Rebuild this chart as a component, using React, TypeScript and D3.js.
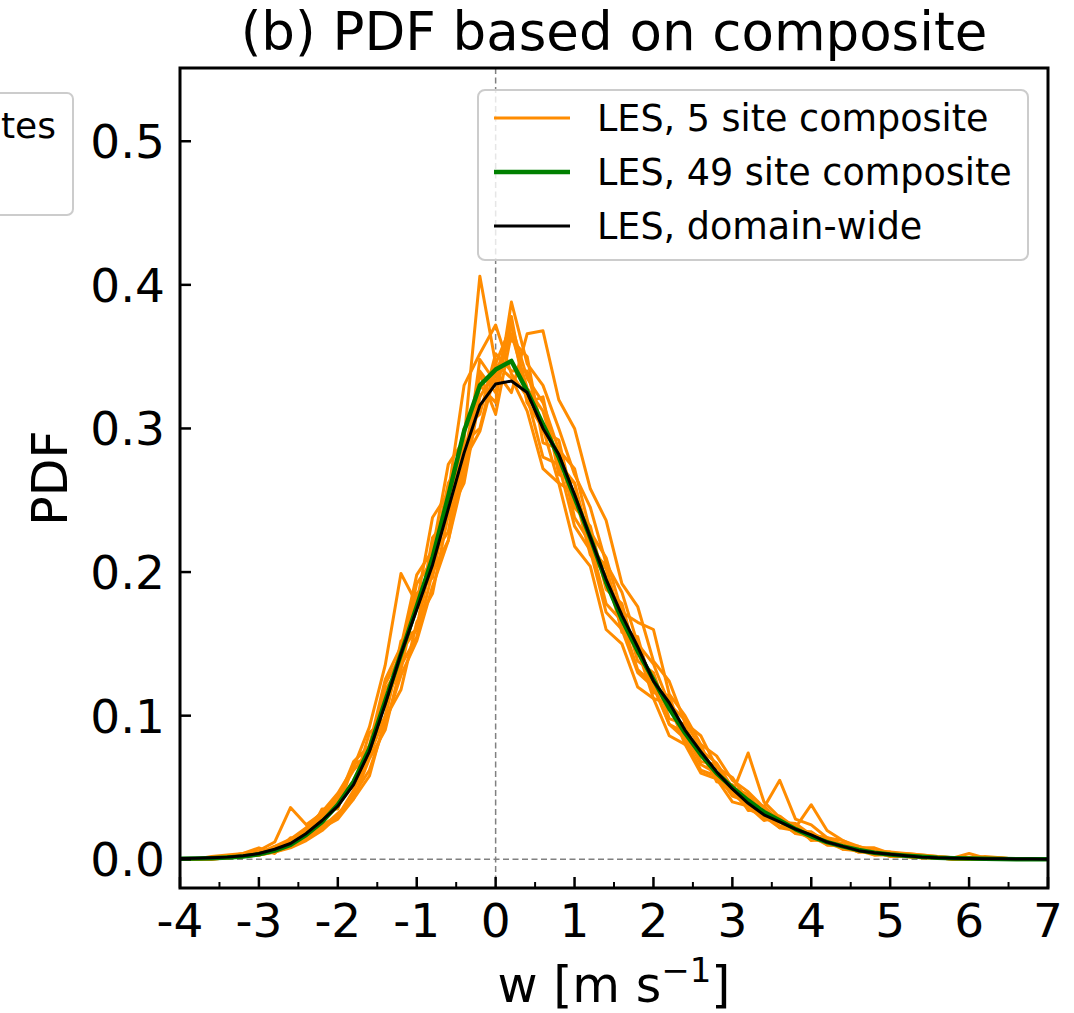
import * as d3 from "d3";

// bin centres of the PDFs, w in m/s
const wBins = d3.range(56).map((i) => -4 + i * 0.2);

// LES, domain-wide
const domainWide = [
  0.0005, 0.0007, 0.001, 0.0015, 0.0025, 0.004, 0.007, 0.011, 0.018, 0.027,
  0.037, 0.052, 0.075, 0.108, 0.143, 0.174, 0.205, 0.244, 0.283, 0.316,
  0.331, 0.333, 0.325, 0.3, 0.282, 0.254, 0.224, 0.195, 0.17, 0.148,
  0.124, 0.109, 0.09, 0.075, 0.061, 0.049, 0.039, 0.031, 0.026, 0.021,
  0.017, 0.012, 0.009, 0.006, 0.0045, 0.0035, 0.0025, 0.0015, 0.001, 0.0008,
  0.0005, 0.0004, 0.0003, 0.0002, 0.0002, 0.0001,
];

// LES, 49 site composite
const composite49 = [
  0.0003, 0.0005, 0.0008, 0.0013, 0.002, 0.0035, 0.006, 0.01, 0.017, 0.026,
  0.038, 0.054, 0.077, 0.11, 0.143, 0.176, 0.21, 0.253, 0.298, 0.33,
  0.341, 0.347, 0.326, 0.303, 0.28, 0.252, 0.224, 0.193, 0.167, 0.145,
  0.125, 0.105, 0.088, 0.073, 0.06, 0.05, 0.041, 0.033, 0.027, 0.021,
  0.016, 0.012, 0.009, 0.0065, 0.0045, 0.0033, 0.0024, 0.0017, 0.0011, 0.0008,
  0.0005, 0.0003, 0.0002, 0.0001, 0.0001, 0.0001,
];

// LES, 5 site composite (one line per sample)
const composite5 = [
  [
    0, 0, 0.001, 0.002, 0.003, 0.005, 0.006, 0.012, 0.02, 0.03,
    0.041, 0.068, 0.079, 0.125, 0.148, 0.198, 0.215, 0.275, 0.292, 0.406,
    0.345, 0.372, 0.318, 0.3, 0.262, 0.255, 0.212, 0.198, 0.16, 0.146,
    0.112, 0.108, 0.08, 0.074, 0.055, 0.047, 0.035, 0.03, 0.022, 0.02,
    0.014, 0.012, 0.007, 0.006, 0.003, 0.003, 0.002, 0.001, 0.001, 0,
    0.001, 0, 0, 0, 0, 0,
  ],
  [
    0, 0, 0, 0.001, 0.002, 0.004, 0.008, 0.01, 0.016, 0.024,
    0.03, 0.045, 0.062, 0.094, 0.128, 0.152, 0.19, 0.222, 0.268, 0.33,
    0.318, 0.388, 0.345, 0.33, 0.3, 0.268, 0.245, 0.206, 0.186, 0.15,
    0.136, 0.108, 0.097, 0.076, 0.067, 0.05, 0.045, 0.032, 0.03, 0.02,
    0.019, 0.012, 0.011, 0.006, 0.006, 0.003, 0.003, 0.002, 0.001, 0.001,
    0.001, 0.002, 0.001, 0, 0, 0,
  ],
  [
    0, 0, 0.001, 0.001, 0.002, 0.003, 0.005, 0.009, 0.014, 0.022,
    0.028, 0.042, 0.07, 0.09, 0.135, 0.155, 0.2, 0.222, 0.278, 0.298,
    0.34, 0.325, 0.366, 0.368, 0.32, 0.3, 0.258, 0.236, 0.192, 0.176,
    0.138, 0.124, 0.095, 0.086, 0.064, 0.057, 0.04, 0.037, 0.026, 0.025,
    0.017, 0.015, 0.01, 0.009, 0.005, 0.005, 0.002, 0.002, 0.001, 0.001,
    0, 0, 0, 0, 0, 0,
  ],
  [
    0, 0, 0.001, 0.002, 0.002, 0.004, 0.009, 0.014, 0.022, 0.033,
    0.046, 0.064, 0.092, 0.135, 0.199, 0.178, 0.238, 0.255, 0.33, 0.352,
    0.372, 0.338, 0.322, 0.28, 0.275, 0.232, 0.215, 0.172, 0.16, 0.13,
    0.12, 0.094, 0.088, 0.066, 0.06, 0.044, 0.04, 0.028, 0.026, 0.018,
    0.016, 0.01, 0.009, 0.005, 0.005, 0.002, 0.002, 0.001, 0.001, 0,
    0, 0, 0, 0, 0, 0,
  ],
  [
    0, 0, 0.002, 0.003, 0.004, 0.006, 0.012, 0.036, 0.024, 0.032,
    0.044, 0.062, 0.075, 0.122, 0.142, 0.192, 0.208, 0.262, 0.28, 0.338,
    0.31, 0.366, 0.328, 0.312, 0.276, 0.262, 0.22, 0.202, 0.165, 0.152,
    0.118, 0.112, 0.084, 0.077, 0.056, 0.05, 0.036, 0.032, 0.023, 0.021,
    0.015, 0.013, 0.008, 0.007, 0.004, 0.004, 0.002, 0.002, 0.001, 0.001,
    0.004, 0.001, 0, 0, 0, 0,
  ],
  [
    0, 0, 0, 0.001, 0.002, 0.003, 0.006, 0.01, 0.015, 0.022,
    0.032, 0.042, 0.058, 0.098, 0.118, 0.165, 0.185, 0.24, 0.262, 0.322,
    0.34, 0.362, 0.35, 0.29, 0.286, 0.238, 0.22, 0.178, 0.166, 0.132,
    0.122, 0.094, 0.084, 0.062, 0.058, 0.046, 0.074, 0.04, 0.029, 0.022,
    0.018, 0.013, 0.01, 0.007, 0.005, 0.004, 0.003, 0.002, 0.001, 0.001,
    0, 0, 0, 0, 0, 0,
  ],
  [
    0, 0, 0.001, 0.002, 0.003, 0.005, 0.008, 0.013, 0.019, 0.028,
    0.039, 0.055, 0.077, 0.112, 0.132, 0.182, 0.2, 0.255, 0.272, 0.34,
    0.325, 0.372, 0.335, 0.318, 0.285, 0.272, 0.228, 0.21, 0.172, 0.165,
    0.16, 0.115, 0.1, 0.08, 0.072, 0.055, 0.047, 0.036, 0.055, 0.028,
    0.024, 0.015, 0.013, 0.008, 0.008, 0.004, 0.004, 0.003, 0.002, 0.001,
    0.001, 0.001, 0.001, 0, 0, 0,
  ],
  [
    0, 0, 0.001, 0.001, 0.002, 0.003, 0.005, 0.008, 0.013, 0.02,
    0.03, 0.048, 0.072, 0.1, 0.145, 0.16, 0.212, 0.228, 0.29, 0.3,
    0.345, 0.335, 0.312, 0.272, 0.262, 0.218, 0.204, 0.16, 0.15, 0.12,
    0.112, 0.086, 0.08, 0.06, 0.056, 0.04, 0.037, 0.027, 0.03, 0.022,
    0.038, 0.02, 0.013, 0.009, 0.006, 0.005, 0.004, 0.003, 0.002, 0.001,
    0.001, 0.001, 0, 0, 0, 0,
  ],
  [
    0, 0, 0.001, 0.002, 0.004, 0.008, 0.004, 0.015, 0.014, 0.035,
    0.035, 0.066, 0.072, 0.118, 0.135, 0.185, 0.196, 0.25, 0.268, 0.348,
    0.332, 0.378, 0.318, 0.322, 0.268, 0.262, 0.214, 0.205, 0.158, 0.155,
    0.116, 0.114, 0.082, 0.08, 0.054, 0.052, 0.034, 0.035, 0.022, 0.024,
    0.013, 0.014, 0.007, 0.008, 0.003, 0.004, 0.002, 0.002, 0.001, 0.001,
    0, 0.001, 0, 0, 0, 0,
  ],
  [
    0, 0, 0.001, 0.001, 0.003, 0.004, 0.009, 0.011, 0.021, 0.026,
    0.045, 0.05, 0.088, 0.098, 0.152, 0.16, 0.224, 0.238, 0.3, 0.31,
    0.352, 0.34, 0.34, 0.298, 0.292, 0.245, 0.232, 0.188, 0.178, 0.138,
    0.13, 0.098, 0.094, 0.068, 0.066, 0.045, 0.044, 0.03, 0.029, 0.018,
    0.019, 0.01, 0.01, 0.005, 0.005, 0.002, 0.002, 0.001, 0.001, 0,
    0, 0, 0, 0, 0, 0,
  ],
];

const xTicks = [-4, -3, -2, -1, 0, 1, 2, 3, 4, 5, 6, 7];
const xMinorTicks = [-3.5, -2.5, -1.5, -0.5, 0.5, 1.5, 2.5, 3.5, 4.5, 5.5, 6.5];
const yTicks = [0, 0.1, 0.2, 0.3, 0.4, 0.5];

const legendItems = [
  { label: "LES, 5 site composite", color: "#ff8c00", width: 3 },
  { label: "LES, 49 site composite", color: "#008000", width: 4.5 },
  { label: "LES, domain-wide", color: "#000000", width: 3 },
];

const W = 1074;
const H = 1013;
const left = 180;
const right = 1048;
const top = 68;
const bottom = 888;
const font = "'DejaVu Sans', sans-serif";

export default function App() {
  const x = d3.scaleLinear().domain([-4, 7]).range([left, right]);
  const y = d3.scaleLinear().domain([-0.02, 0.551]).range([bottom, top]);

  const line = d3
    .line<number>()
    .x((_, i) => x(wBins[i]))
    .y((d) => y(d));

  return (
    <svg
      width={W}
      height={H}
      style={{ position: "absolute", left: 0, top: 0, background: "#fff" }}
      fontFamily={font}
    >
      <defs>
        <clipPath id="plotClip">
          <rect x={left} y={top} width={right - left} height={bottom - top} />
        </clipPath>
      </defs>

      {/* what is left of the neighbouring panel's legend */}
      <rect x={-20} y={93} width={93} height={122} rx={6} fill="#fff" stroke="#cccccc" strokeWidth={2} />
      <text x={56} y={138} fontSize={36} textAnchor="end" fill="#000">
        tes
      </text>

      <text x={(left + right) / 2} y={50} fontSize={53} textAnchor="middle" fill="#000">
        (b) PDF based on composite
      </text>

      <g clipPath="url(#plotClip)">
        <line x1={x(0)} x2={x(0)} y1={top} y2={bottom} stroke="#808080" strokeWidth={1.5} strokeDasharray="6,3.5" />
        <line x1={left} x2={right} y1={y(0)} y2={y(0)} stroke="#808080" strokeWidth={1.5} strokeDasharray="6,3.5" />
        {composite5.map((s, k) => (
          <path key={k} d={line(s) ?? ""} fill="none" stroke="#ff8c00" strokeWidth={3} strokeLinejoin="round" />
        ))}
        <path d={line(composite49) ?? ""} fill="none" stroke="#008000" strokeWidth={4.5} strokeLinejoin="round" />
        <path d={line(domainWide) ?? ""} fill="none" stroke="#000" strokeWidth={3} strokeLinejoin="round" />
      </g>

      {/* ticks, pointing inward */}
      {xTicks.map((t) => (
        <g key={`xt${t}`}>
          <line x1={x(t)} x2={x(t)} y1={bottom} y2={bottom - 11} stroke="#000" strokeWidth={2.5} />
          <text x={x(t)} y={937} fontSize={47} textAnchor="middle" fill="#000">
            {String(t)}
          </text>
        </g>
      ))}
      {xMinorTicks.map((t) => (
        <line key={`xm${t}`} x1={x(t)} x2={x(t)} y1={bottom} y2={bottom - 6} stroke="#000" strokeWidth={2} />
      ))}
      {yTicks.map((t) => (
        <g key={`yt${t}`}>
          <line x1={left} x2={left + 11} y1={y(t)} y2={y(t)} stroke="#000" strokeWidth={2.5} />
          <text x={165} y={y(t)} dy="0.36em" fontSize={47} textAnchor="end" fill="#000">
            {d3.format(".1f")(t)}
          </text>
        </g>
      ))}

      <rect x={left} y={top} width={right - left} height={bottom - top} fill="none" stroke="#000" strokeWidth={3} />

      {/* legend */}
      <rect x={478} y={90} width={550} height={170} rx={7} fill="#fff" fillOpacity={0.8} stroke="#cccccc" strokeWidth={2} />
      {legendItems.map((d, i) => (
        <g key={d.label} transform={`translate(0,${118 + i * 54})`}>
          <line x1={494} x2={570} y1={0} y2={0} stroke={d.color} strokeWidth={d.width} />
          <text x={597} y={0} dy="0.35em" fontSize={36.5} fill="#000">
            {d.label}
          </text>
        </g>
      ))}

      <text
        transform={`translate(67,${(top + bottom) / 2}) rotate(-90)`}
        fontSize={49}
        textAnchor="middle"
        fill="#000"
      >
        PDF
      </text>
      <text x={(left + right) / 2} y={1002} fontSize={49} textAnchor="middle" fill="#000">
        w [m s
        <tspan fontSize={34} dy={-20}>
          −1
        </tspan>
        <tspan dy={20}>]</tspan>
      </text>
    </svg>
  );
}
